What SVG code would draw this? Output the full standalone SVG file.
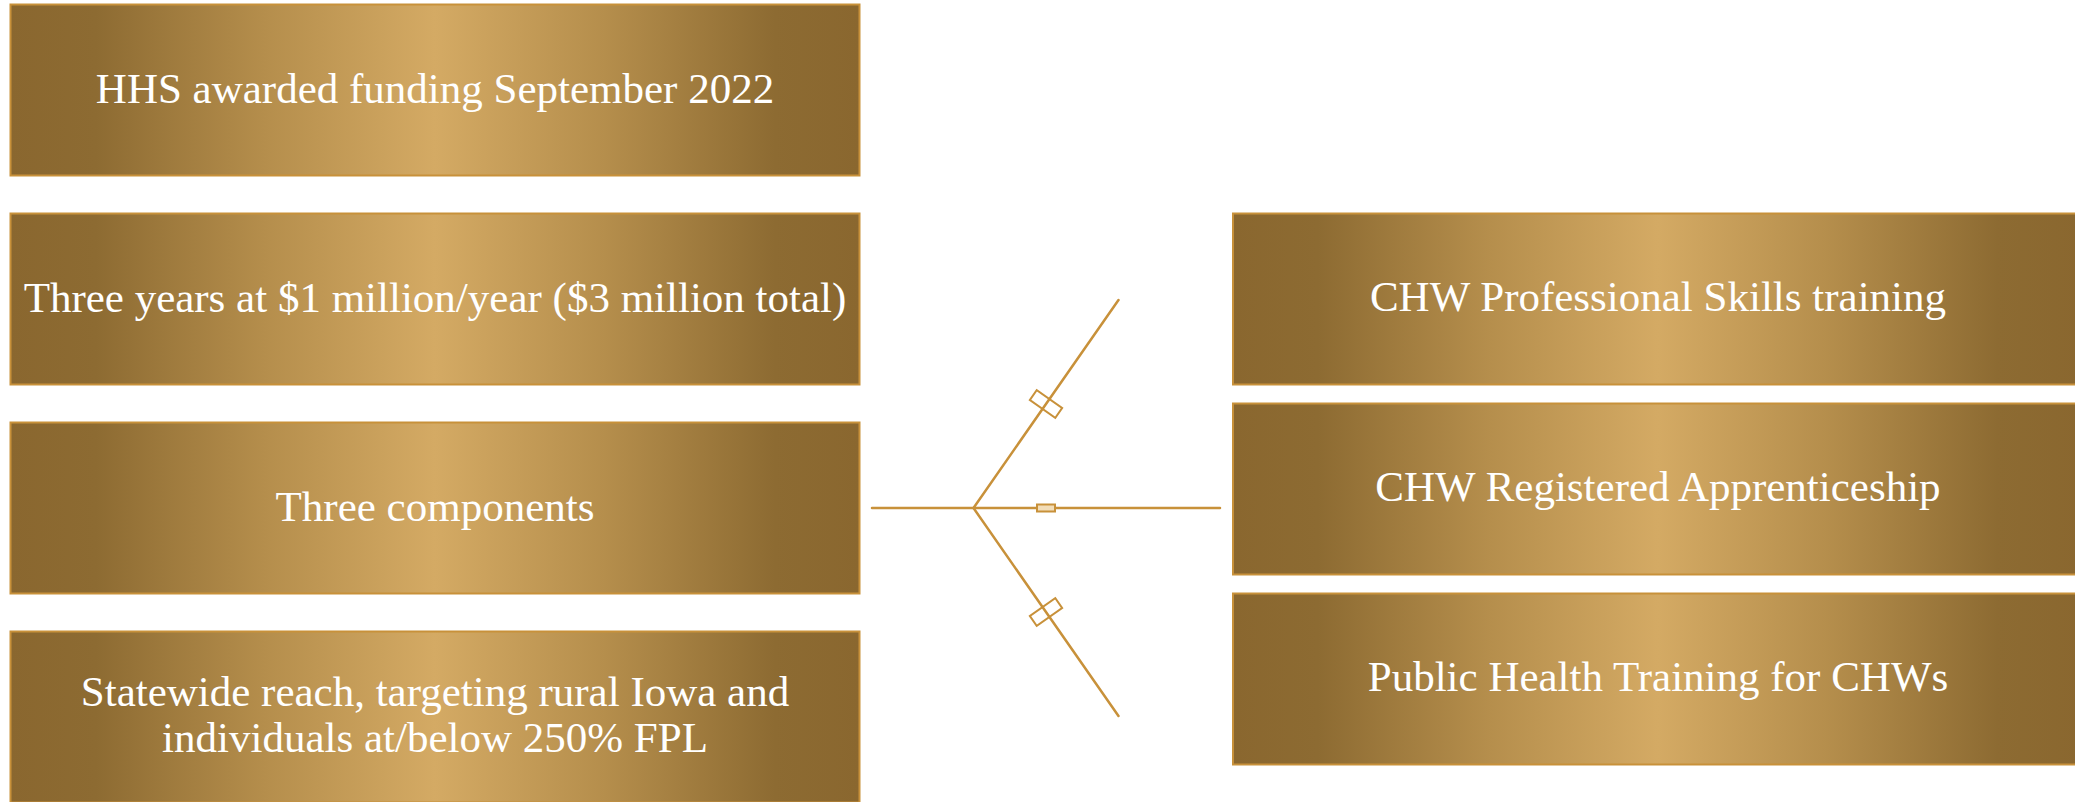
<svg xmlns="http://www.w3.org/2000/svg" width="2075" height="802" viewBox="0 0 2075 802">
<defs>
<linearGradient id="gold" x1="0" y1="0" x2="1" y2="0">
<stop offset="0" stop-color="#8A672F"/>
<stop offset="0.1" stop-color="#8D6B32"/>
<stop offset="0.3" stop-color="#B58E4C"/>
<stop offset="0.5" stop-color="#D4AA64"/>
<stop offset="0.7" stop-color="#B58E4C"/>
<stop offset="0.9" stop-color="#8D6B32"/>
<stop offset="1" stop-color="#8A672F"/>
</linearGradient>
<style>
.box{fill:url(#gold);stroke:#C8913A;stroke-width:2}
.t{font-family:"Liberation Serif","Times New Roman",serif;font-size:43px;fill:#FFFFFF;text-anchor:middle}
.ln{stroke:#C8913A;stroke-width:2.5;fill:none;stroke-linecap:round}
.mk{stroke:#C8913A;stroke-width:2;fill:none}
.mk2{stroke:#C8913A;stroke-width:2;fill:#F2DDB8}
</style>
</defs>
<rect width="2075" height="802" fill="#FFFFFF"/>
<g id="node-hhs">
<rect class="box" x="10.5" y="4.5" width="849" height="171"/>
<text class="t" x="435" y="103">HHS awarded funding September 2022</text>
</g>
<g id="node-years">
<rect class="box" x="10.5" y="213.5" width="849" height="171"/>
<text class="t" x="435" y="312">Three years at $1 million/year ($3 million total)</text>
</g>
<g id="node-components">
<rect class="box" x="10.5" y="422.5" width="849" height="171"/>
<text class="t" x="435" y="521">Three components</text>
</g>
<g id="node-statewide">
<rect class="box" x="10.5" y="631.5" width="849" height="171"/>
<text class="t" x="435" y="706">Statewide reach, targeting rural Iowa and</text>
<text class="t" x="435" y="752">individuals at/below 250% FPL</text>
</g>
<g id="node-skills">
<rect class="box" x="1233" y="213.5" width="849" height="171"/>
<text class="t" x="1658" y="311">CHW Professional Skills training</text>
</g>
<g id="node-apprenticeship">
<rect class="box" x="1233" y="403.5" width="849" height="171"/>
<text class="t" x="1658" y="501">CHW Registered Apprenticeship</text>
</g>
<g id="node-publichealth">
<rect class="box" x="1233" y="593.5" width="849" height="171"/>
<text class="t" x="1658" y="691">Public Health Training for CHWs</text>
</g>
<g id="connectors">
<line class="ln" x1="872" y1="508" x2="1220" y2="508"/>
<line class="ln" x1="973.5" y1="508" x2="1118.5" y2="300"/>
<line class="ln" x1="973.5" y1="508" x2="1118.5" y2="716"/>
<rect class="mk" x="-6" y="-15.5" width="12" height="31" transform="translate(1046 404) rotate(-55.1)"/>
<rect class="mk" x="-6" y="-15.5" width="12" height="31" transform="translate(1046 612) rotate(55.1)"/>
<rect class="mk2" x="1037" y="504.5" width="18" height="7"/>
</g>
</svg>
